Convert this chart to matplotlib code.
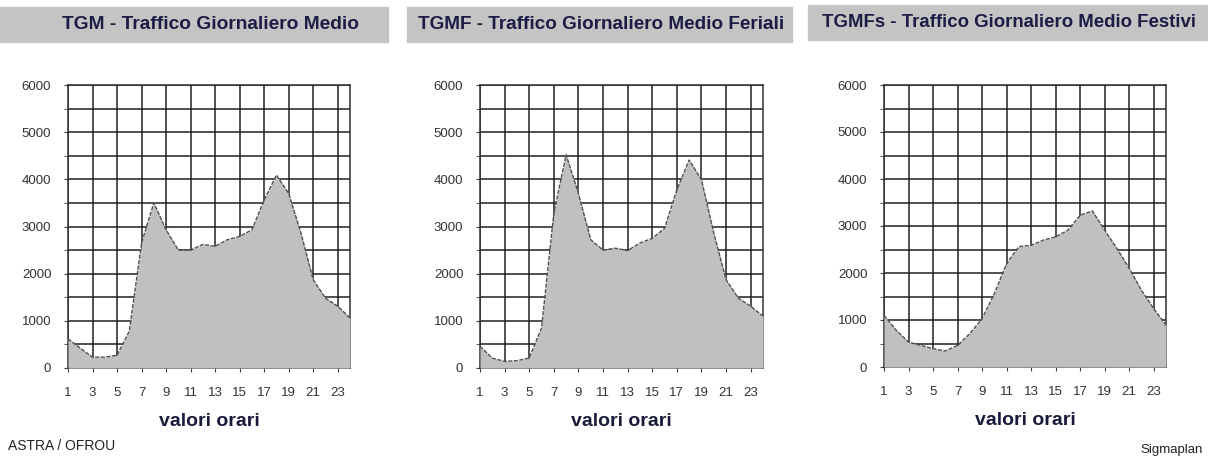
import numpy as np
import matplotlib
matplotlib.use("Agg")
from matplotlib import pyplot as plt
from matplotlib.patches import Rectangle

plt.rcParams['font.family'] = ['Liberation Sans', 'DejaVu Sans']

hours = list(range(1, 25))
hour_labels = [str(h) for h in range(1, 24, 2)]

tgm = [620, 420, 230, 230, 270, 780, 2650, 3500, 2930, 2500, 2500, 2620,
       2580, 2720, 2790, 2930, 3560, 4090, 3700, 2860, 1870, 1480, 1310, 1060]
tgmf = [460, 210, 140, 155, 210, 850, 3280, 4520, 3700, 2720, 2500, 2540,
        2490, 2650, 2750, 2960, 3780, 4410, 3990, 2860, 1870, 1480, 1310, 1100]
tgmfs = [1100, 780, 530, 460, 390, 340, 460, 710, 1030, 1560, 2200, 2560,
         2590, 2700, 2770, 2910, 3230, 3320, 2910, 2520, 2100, 1630, 1240, 890]

titles = ["TGM - Traffico Giornaliero Medio",
          "TGMF - Traffico Giornaliero Medio Feriali",
          "TGMFs - Traffico Giornaliero Medio Festivi"]
series = [tgm, tgmf, tgmfs]

W, H = 1208, 457
fig = plt.figure(figsize=(W / 100, H / 100), dpi=100)

# pixel layout: axes (left, top, right, bottom), title band (x0, x1, y0, y1), title centre
axes_px = [(68, 85, 350, 368), (480, 85, 763, 368), (884, 85, 1166, 367)]
band_px = [(0, 388, 7, 42), (407, 792, 7, 42), (808, 1208, 5, 40)]
title_cx = [211, 601, 1009]
title_fs = [13.8, 13.6, 13.4]


def fx(x):
    return x / W


def fy(y):
    return 1 - y / H


for i in range(3):
    l, t, r, b = axes_px[i]
    ax = fig.add_axes([fx(l), fy(b), (r - l) / W, (b - t) / H])
    ax.fill_between(hours, series[i], 0, color="#c0c0c0", zorder=3, lw=0)
    ax.plot(hours, series[i], color="#505050", lw=1.0, ls=(0, (3, 1)), zorder=4)
    ax.set_xlim(1, 24)
    ax.set_ylim(0, 6000)
    ax.set_xticks(range(1, 24, 2))
    ax.set_xticklabels(hour_labels)
    ax.set_yticks(range(0, 6001, 1000))
    ax.set_yticks(range(0, 6001, 500), minor=True)
    ax.grid(True, which="both", color="#202020", lw=1.1, zorder=1)
    ax.set_axisbelow(True)
    for s in ax.spines.values():
        s.set_color("#303030")
        s.set_linewidth(1.1)
    ax.tick_params(axis="both", which="both", direction="out", length=3,
                   color="#404040", labelsize=9.5, labelcolor="#333333")
    ax.tick_params(axis="x", pad=11)
    ax.tick_params(axis="y", pad=9)
    ax.set_xlabel("valori orari", fontsize=14, fontweight="bold",
                  color="#1a1a3a", labelpad=10)

    x0, x1, y0, y1 = band_px[i]
    fig.patches.append(Rectangle((fx(x0), fy(y1)), (x1 - x0) / W, (y1 - y0) / H,
                                 transform=fig.transFigure, color="#c4c4c4", zorder=0))
    fig.text(fx(title_cx[i]), fy((y0 + y1) / 2), titles[i], ha="center", va="center",
             fontsize=title_fs[i], fontweight="bold", color="#1c1c44")

fig.text(fx(8), fy(446), "ASTRA / OFROU", ha="left", va="center", fontsize=10, color="#222222")
fig.text(fx(1203), fy(450), "Sigmaplan", ha="right", va="center", fontsize=9.5, color="#222222")

fig.savefig("out.png", dpi=100, facecolor="white")
